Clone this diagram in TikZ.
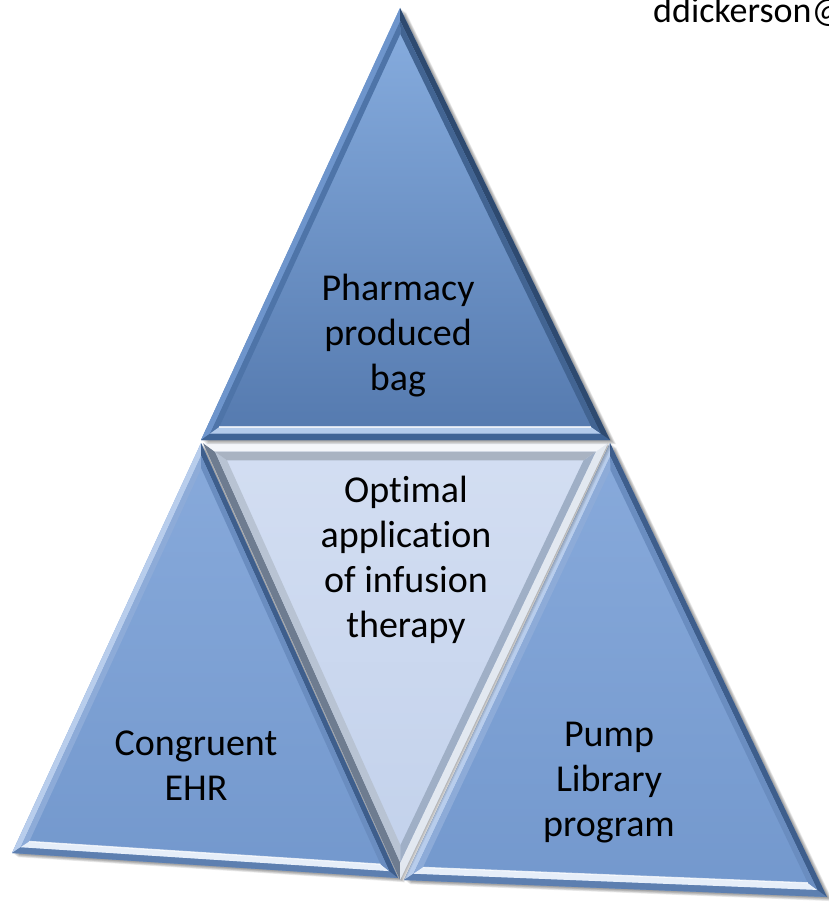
\documentclass[tikz,border=0pt]{standalone}
\usepackage{fontspec}
\setmainfont{Carlito}[Ligatures=NoCommon]
\usetikzlibrary{calc}
% top triangle
\definecolor{tTop}{HTML}{88AEE0}\definecolor{tBot}{HTML}{5479AE}
\definecolor{tLo}{HTML}{6E95CC}\definecolor{tLi}{HTML}{4E74A8}
\definecolor{tBo}{HTML}{3F6496}\definecolor{tBi}{HTML}{B3CBEB}
\definecolor{tRo}{HTML}{2E4A70}\definecolor{tRi}{HTML}{426492}
% middle triangle
\definecolor{mTop}{HTML}{D3DEF2}\definecolor{mBot}{HTML}{C2D1EB}
\definecolor{mTo}{HTML}{F4F6FA}\definecolor{mTi}{HTML}{A9B3C2}
\definecolor{mLo}{HTML}{6E7C90}\definecolor{mLi}{HTML}{B8C3D3}
\definecolor{mRo}{HTML}{E2E8F0}\definecolor{mRi}{HTML}{9FAFC6}
% side triangles
\definecolor{sTop}{HTML}{88AADB}\definecolor{sBot}{HTML}{7398CD}
\definecolor{sLo}{HTML}{B8CDEC}\definecolor{sLi}{HTML}{8DABD8}
\definecolor{sBo}{HTML}{5D7FB0}\definecolor{sBi}{HTML}{E6EEF9}
\definecolor{sRo}{HTML}{3E5E8C}\definecolor{sRi}{HTML}{6A8DC0}
\newcommand\mktri[7]{%
  \coordinate (#1v1) at #2;
  \coordinate (#1v2) at #3;
  \coordinate (#1v3) at #4;
  \coordinate (#1c) at ($0.3333*(#1v1)+0.3333*(#1v2)+0.3334*(#1v3)$);
  \foreach \j in {1,2,3}{%
    \coordinate (#1m\j) at ($(#1c)!#5!(#1v\j)$);
    \coordinate (#1i\j) at ($(#1c)!#6!(#1v\j)$);}
  \foreach \s in {1,...,#7}{%
    \fill[shadowlayer] ($(#1v1)+(\s,\s*0.7)$)--($(#1v2)+(\s,\s*0.7)$)--($(#1v3)+(\s,\s*0.7)$)--cycle;}
}
\newcommand\band[5]{%
  \fill[#4] (#1v#2)--(#1v#3)--(#1m#3)--(#1m#2)--cycle;
  \fill[#5] (#1m#2)--(#1m#3)--(#1i#3)--(#1i#2)--cycle;}
\tikzset{
  shadowlayer/.style={fill=black, fill opacity=0.08, draw=none},
  lbl/.style={font=\fontsize{38}{45}\selectfont, align=center, text=black, inner sep=0pt},
  hilite/.style={draw=white, draw opacity=0.75, line width=1.3pt},
}
\begin{document}
\begin{tikzpicture}[x=1pt,y=-1pt]
\useasboundingbox (0,0) rectangle (829,904);
\clip (0,0) rectangle (829,904);
% left triangle
\mktri{l}{(201,443)}{(12,853)}{(398,878)}{0.955}{0.91}{6}
\shade[top color=sTop, bottom color=sBot] (lv1)--(lv2)--(lv3)--cycle;
\band{l}{1}{2}{sLo}{sLi}
\band{l}{2}{3}{sBo}{sBi}
\band{l}{3}{1}{sRo}{sRi}
\draw[hilite] (li2)--(li3);
% right triangle
\mktri{r}{(610,443)}{(404,880)}{(827,897)}{0.955}{0.91}{6}
\shade[top color=sTop, bottom color=sBot] (rv1)--(rv2)--(rv3)--cycle;
\band{r}{1}{2}{sLo}{sLi}
\band{r}{2}{3}{sBo}{sBi}
\band{r}{3}{1}{sRo}{sRi}
\draw[hilite] (ri2)--(ri3);
% middle inverted triangle
\mktri{m}{(203,443)}{(400,880)}{(608,443)}{0.94}{0.88}{4}
\shade[top color=mTop, bottom color=mBot] (mv1)--(mv2)--(mv3)--cycle;
\band{m}{1}{2}{mLo}{mLi}
\band{m}{2}{3}{mRo}{mRi}
\band{m}{3}{1}{mTo}{mTi}
% top triangle
\mktri{t}{(400,8)}{(201,440)}{(610,440)}{0.955}{0.91}{6}
\shade[top color=tTop, bottom color=tBot] (tv1)--(tv2)--(tv3)--cycle;
\band{t}{1}{2}{tLo}{tLi}
\band{t}{2}{3}{tBo}{tBi}
\band{t}{3}{1}{tRo}{tRi}
\draw[hilite] (ti2)--(ti3);
% labels
\node[lbl] (pharm) at (398,336) {Pharmacy\\produced\\bag};
\node[lbl] (opt) at (406,560) {Optimal\\application\\of infusion\\therapy};
\node[lbl] (ehr) at (196,766) {Congruent\\EHR};
\node[lbl] (pump) at (609,783) {Pump\\Library\\program};
\node[lbl, font=\fontsize{36}{45}\selectfont, anchor=base west] (mail) at (653,23) {ddickerson@};
\end{tikzpicture}
\end{document}
